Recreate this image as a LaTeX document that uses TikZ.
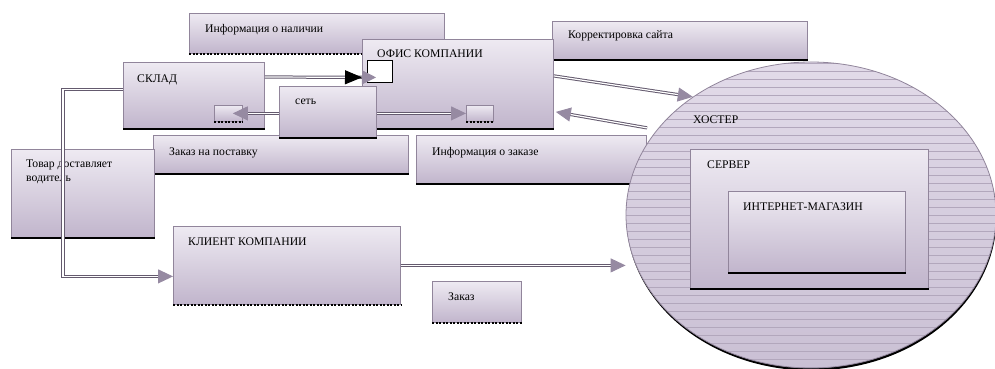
\documentclass[tikz,border=0pt]{standalone}
\usepackage{fontspec}
\setmainfont{Liberation Serif}
\usepackage{xcolor}
\usepackage{tikz}
\usetikzlibrary{positioning,shapes.geometric,arrows.meta,calc}
\definecolor{boxtop}{RGB}{238,234,242}
\definecolor{boxbot}{RGB}{193,181,204}
\definecolor{boxline}{RGB}{145,133,155}
\definecolor{pipec}{RGB}{100,90,110}
\definecolor{tipc}{RGB}{150,138,162}
\definecolor{hatchc}{RGB}{178,167,188}
\definecolor{hosttop}{RGB}{226,219,233}
\definecolor{hostbot}{RGB}{202,192,212}

\begin{document}
\begin{tikzpicture}[x=1pt, y=-1pt, font=\fontsize{11.7}{12}\selectfont]
    \tikzstyle{box} = [rectangle, anchor=north west, inner sep=0pt, draw=boxline, line width=0.8pt, top color=boxtop, bottom color=boxbot]
    \tikzstyle{base} = [append after command={(\tikzlastnode.south west) edge[black, line width=2pt] (\tikzlastnode.south east)}]
    \tikzstyle{dbase} = [append after command={(\tikzlastnode.south west) edge[black, line width=1.6pt, dash pattern=on 2pt off 1.5pt] (\tikzlastnode.south east)}]
    \tikzstyle{txt} = [anchor=base west, inner sep=0pt, align=left]
    \tikzstyle{pipe} = [draw=pipec, double=white, double distance=1.2pt, line width=1pt, -{Triangle[length=15pt, width=14pt, color=tipc]}]
    \tikzstyle{hatch} = [draw=hatchc, line width=0.6pt]

    \useasboundingbox (0,0) rectangle (995,369);

    \node [box, dbase, minimum width=255, minimum height=40] (nal) at (189,13) {};
    \node [txt] (nal-t) at (205,33) {Информация о наличии};
    \node [box, base, minimum width=255, minimum height=38] (korr) at (552,21) {};
    \node [txt] (korr-t) at (568,39) {Корректировка сайта};
    \node [box, base, minimum width=191, minimum height=89] (ofis) at (362,39) {};
    \node [txt] (ofis-t) at (377,58) {ОФИС КОМПАНИИ};
    \node [rectangle, anchor=north west, inner sep=0pt, draw=black, fill=white, line width=0.8pt, minimum width=25, minimum height=22] (sq) at (367,60) {};
    \node [box, dbase, minimum width=27, minimum height=16] (ofport) at (466,105) {};
    \node [box, base, minimum width=141, minimum height=66] (sklad) at (123,62) {};
    \node [txt] (sklad-t) at (137,82) {СКЛАД};
    \node [box, dbase, minimum width=28, minimum height=16] (sklport) at (214,105) {};
    \node [box, base, minimum width=255, minimum height=38] (zakpost) at (153,135) {};
    \node [txt] (zakpost-t) at (169,155) {Заказ на поставку};
    \node [box, base, minimum width=97, minimum height=51] (net) at (279,86) {};
    \node [txt] (net-t) at (295,104) {сеть};
    \node [box, base, minimum width=230, minimum height=48] (infzak) at (416,135) {};
    \node [txt] (infzak-t) at (432,155) {Информация о заказе};
    \node [box, base, minimum width=143, minimum height=88] (tovar) at (11,149) {};
    \node [txt] (tovar-t) at (26,181) {Товар доставляет\\[1.5pt]водитель};
    \node [box, dbase, minimum width=227, minimum height=78] (klient) at (173,226) {};
    \node [txt] (klient-t) at (188,245) {КЛИЕНТ КОМПАНИИ};
    \node [box, dbase, minimum width=89, minimum height=41] (zakaz) at (432,281) {};
    \node [txt] (zakaz-t) at (448,300) {Заказ};

    % hoster with its server
    \node [ellipse, inner sep=0pt, fill=black, minimum width=370, minimum height=306] (host-sh) at (811.5,217.5) {};
    \node [ellipse, inner sep=0pt, draw=boxline, line width=0.8pt, top color=hosttop, bottom color=hostbot, minimum width=370, minimum height=306,
        path picture={\foreach \k in {-19,...,19} \draw[hatch] ($(path picture bounding box.center)+(-200,8*\k)$) -- ++(400,0);}] (host) at (811,215) {};
    \node [txt] (host-t) at (693,123) {ХОСТЕР};
    \node [box, base, minimum width=238, minimum height=139] (server) at (690,149) {};
    \node [txt] (server-t) at (707,168) {СЕРВЕР};
    \node [box, base, minimum width=177, minimum height=81] (shop) at (728,191) {};
    \node [txt] (shop-t) at (743,210) {ИНТЕРНЕТ-МАГАЗИН};

    \draw [pipe, -{Triangle[length=17pt, width=14pt, black]Triangle[length=14pt, width=14pt, color=tipc]}] ($(sklad.north east)+(0,15)$) -- ($(sq.west)+(9,6)$);
    \draw [pipe] (net.west |- sklport.east) -- ($(sklport.east)+(-10,0)$);
    \draw [pipe] (net.east |- ofport.west) -- (ofport.west);
    \draw [pipe] ($(ofis.east)+(0,-8)$) -- (host.135);
    \draw [pipe, shorten <=10pt] (host.151) -- ($(ofis.east)+(2,28)$);
    \draw [pipe] (klient.east) -- (klient.east -| host.west);
    \draw [pipe] ($(sklad.west)+(0,-6)$) -- ++(-60,0) |- ($(klient.west)+(0,11)$);
\end{tikzpicture}
\end{document}
